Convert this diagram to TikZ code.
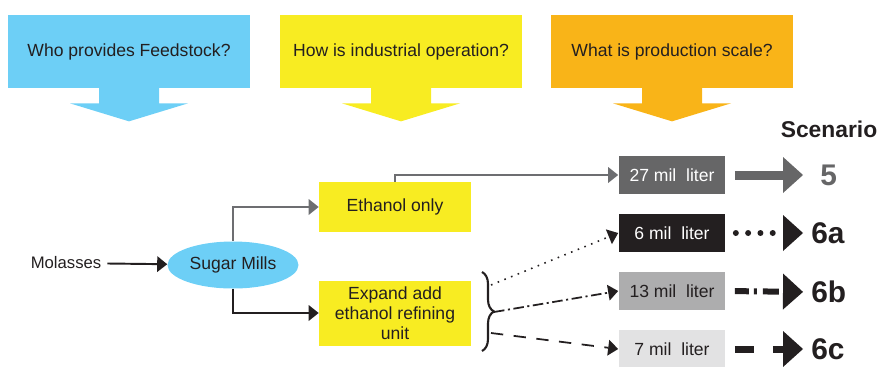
\documentclass[tikz,border=0pt]{standalone}
\usepackage{fontspec}
\setmainfont{Liberation Sans}
\usetikzlibrary{arrows.meta, shapes.geometric, decorations.pathreplacing}
\definecolor{feedblue}{HTML}{6DCFF6}
\definecolor{operyellow}{HTML}{F8EC22}
\definecolor{scaleorange}{HTML}{F9B418}
\definecolor{inkdark}{HTML}{231F20}
\definecolor{linegray}{HTML}{6D6E71}
\definecolor{boxfive}{HTML}{666667}
\definecolor{boxsixb}{HTML}{ADADAE}
\definecolor{boxsixc}{HTML}{E2E2E3}
\newcommand\questarrow[2]{%
    \fill[#2] (#1.south) ++(-30,-1) -- ++(0,16) -- ++(-29,0) -- ++(59,18)
        -- ++(59,-18) -- ++(-29,0) -- ++(0,-16) -- cycle;
}
\tikzset{
    question/.style={minimum width=4.84cm, minimum height=1.46cm, inner sep=0pt,
        text=inkdark, font=\fontsize{10}{12}\selectfont},
    stepbox/.style={fill=operyellow, minimum width=3.04cm, inner sep=2pt,
        text=inkdark, align=center, font=\fontsize{10}{11.4}\selectfont},
    litre/.style={minimum width=2.14cm, minimum height=0.75cm, inner sep=0pt,
        font=\fontsize{10}{12}\selectfont},
    scenno/.style={font=\fontsize{17}{20}\selectfont\bfseries, inner sep=0pt,
        anchor=west, text=inkdark},
    smalltip/.style={-{Triangle[length=0.2cm, width=0.32cm, line width=0pt]}},
    link/.style={smalltip, line width=1.1pt, inkdark},
    biglink/.style={-{Triangle[length=0.4cm, width=0.72cm, line width=0pt]},
        shorten <=0.18cm, shorten >=0.16cm, inkdark},
}

\begin{document}
\begin{tikzpicture}[x=0.02cm, y=-0.02cm]
\useasboundingbox (0,0) rectangle (879,366);

% questions on top
\node[question, fill=feedblue] (feed) at (129,51.5) {Who provides Feedstock?};
\node[question, fill=operyellow] (oper) at (401,51.5) {How is industrial operation?};
\node[question, fill=scaleorange] (scale) at (672,51.5) {What is production scale?};
\questarrow{feed}{feedblue}
\questarrow{oper}{operyellow}
\questarrow{scale}{scaleorange}

% feedstock and operation
\node[text=inkdark, font=\fontsize{9.5}{12}\selectfont] (molasses) at (66,263) {Molasses};
\node[ellipse, fill=feedblue, minimum width=2.62cm, minimum height=0.94cm, inner sep=0pt,
    text=inkdark, font=\fontsize{10}{12}\selectfont] (mills) at (233,265) {Sugar Mills};
\node[stepbox, minimum height=1.0cm] (only) at (395,207) {Ethanol only};
\node[stepbox, minimum height=1.3cm] (expand) at (395,313) {Expand add\\ethanol refining\\unit};

\draw[link] (molasses) -- (mills);
\draw[link, linegray] (mills.north) |- (only.west);
\draw[link] (mills.south) |- (expand.west);

% production scale
\node[litre, fill=boxfive, text=white] (s5) at (672,175) {27 mil~ liter};
\node[litre, fill=inkdark, text=white] (s6a) at (672,233) {6 mil~ liter};
\node[litre, fill=boxsixb, text=inkdark] (s6b) at (672,291) {13 mil~ liter};
\node[litre, fill=boxsixc, text=inkdark] (s6c) at (672,349) {7 mil~ liter};

\draw[smalltip, linegray, line width=0.7pt] (only.north) |- (s5.west);

\draw[decorate, decoration={brace, amplitude=0.24cm}, line width=1.2pt, inkdark]
    (482,272) -- (482,351);
\coordinate (brup) at (491,285);
\coordinate (brmid) at (494,312);
\coordinate (brlow) at (491,333);
\draw[smalltip, inkdark, line width=0.9pt, dash pattern=on 0.9pt off 3.2pt] (brup) -- (s6a.west);
\draw[smalltip, inkdark, line width=1pt, dash pattern=on 6pt off 2pt on 1.2pt off 2pt] (brmid) -- (s6b.west);
\draw[smalltip, inkdark, line width=1pt, dash pattern=on 7pt off 6pt] (brlow) -- (s6c.west);

% scenarios
\node[font=\fontsize{13}{15}\selectfont\bfseries, text=inkdark] (scen) at (829,129) {Scenario};
\node[scenno, text=boxfive] (n5) at (820,175) {5};
\node[scenno] (n6a) at (811,233) {6a};
\node[scenno] (n6b) at (811,292) {6b};
\node[scenno] (n6c) at (811,349) {6c};

\draw[biglink, boxfive, line width=0.18cm, shorten >=0.34cm] (s5.east) -- (n5.west);
\draw[biglink, line width=0.12cm, line cap=round, dash pattern=on 0pt off 0.246cm,
    shorten <=0.2cm] (s6a.east) -- (n6a.west);
\draw[biglink, line width=0.12cm,
    dash pattern=on 0.28cm off 0.1cm on 0.06cm off 0.12cm on 0.32cm off 0.2cm] (s6b.east) -- (n6b.west);
\draw[biglink, line width=0.14cm, dash pattern=on 0.38cm off 0.38cm] (s6c.east) -- (n6c.west);
\end{tikzpicture}
\end{document}
